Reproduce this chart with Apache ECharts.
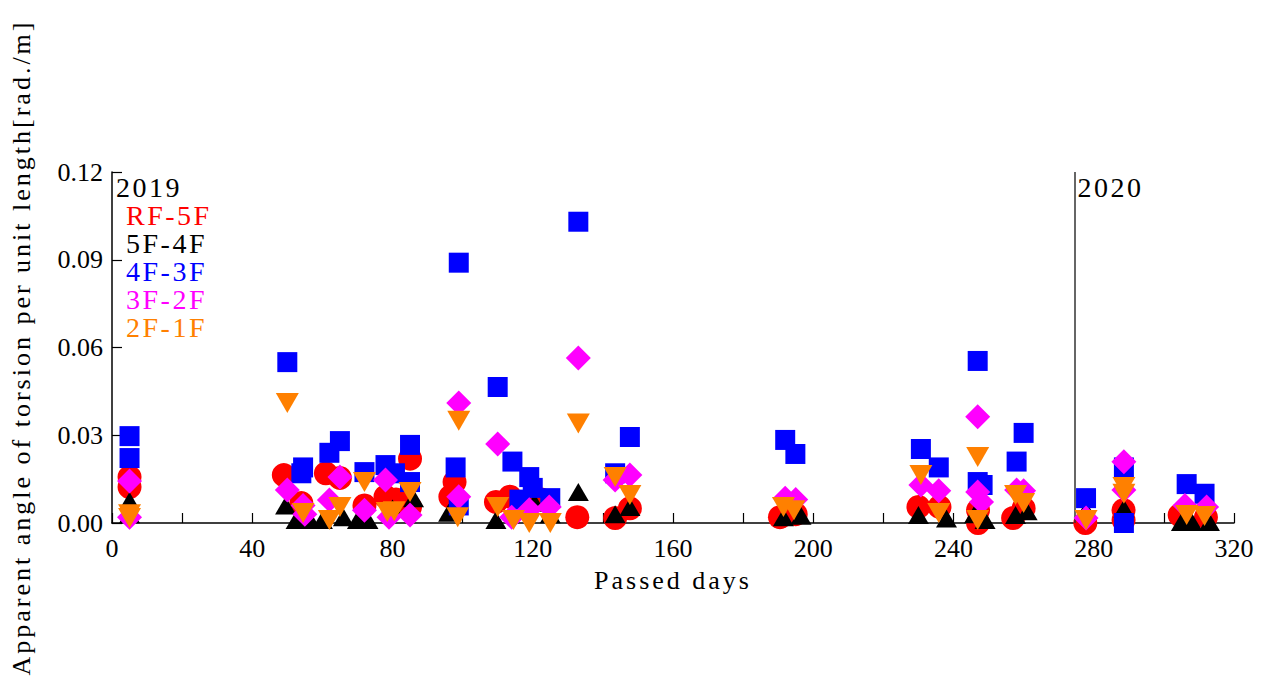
<!DOCTYPE html>
<html>
<head>
<meta charset="utf-8">
<script src="https://cdn.jsdelivr.net/npm/echarts@6/dist/echarts.min.js"></script>
<style>
  html, body { margin: 0; padding: 0; background: #fff; }
  #chart { width: 1264px; height: 683px; }
  /* wide letter spacing, like the original figure */
  #chart text[style*="Times"] { letter-spacing: 3px; }
  #chart text[style*="Georgia"] { letter-spacing: 2.5px; }
</style>
</head>
<body>
<div id="chart"></div>
<script>
// [passed day, angle]
const rf5f = [
  [5, 0.0157], [5, 0.0123], [49, 0.0164], [54, 0.0068], [61, 0.017], [65, 0.0154],
  [72, 0.006], [78, 0.009], [81, 0.008], [85, 0.022], [85, 0.0055], [97.7, 0.014],
  [96.5, 0.009], [109.5, 0.0072], [113.5, 0.009], [122.5, 0.008], [132.7, 0.002],
  [143.5, 0.0017], [147.7, 0.005], [190.5, 0.002], [195, 0.003], [230, 0.0055],
  [236, 0.0055], [247, 0.0044], [247, 0.0], [257, 0.0017], [260, 0.005], [277.6, 0.0],
  [288.5, 0.0044], [288.5, 0.001], [304.5, 0.0027], [312, 0.002]
];
const f5f4 = [
  [5, 0.0075], [5, 0.003], [49.5, 0.006], [52.5, 0.001], [56.5, 0.001], [60, 0.001],
  [66, 0.002], [70, 0.001], [73, 0.001], [80, 0.005], [86, 0.0085], [96, 0.0035],
  [109.5, 0.001], [120.5, 0.007], [125, 0.003], [133, 0.0106], [143.5, 0.003],
  [147.7, 0.0055], [191.5, 0.002], [196.5, 0.0025], [230, 0.0027], [238, 0.0015],
  [246, 0.003], [249, 0.001], [257.7, 0.0027], [261, 0.004], [277.8, 0.0044],
  [288.6, 0.005], [305, 0.0003], [308, 0.0003], [313, 0.0003]
];
const f4f3 = [
  [5, 0.0297], [5, 0.0222], [50, 0.055], [54.5, 0.019], [54, 0.017], [62, 0.024],
  [65, 0.028], [72, 0.0174], [78, 0.0198], [80.7, 0.017], [85, 0.0267], [85, 0.014],
  [98.9, 0.089], [98, 0.019], [98.9, 0.006], [110, 0.0465], [114.2, 0.021], [119, 0.0157],
  [120, 0.012], [125, 0.0085], [116.2, 0.008], [133, 0.103], [147.7, 0.0294], [143.5, 0.017],
  [192, 0.0284], [194.9, 0.0236], [230.7, 0.0253], [235.8, 0.019], [246.9, 0.0554],
  [246.9, 0.014], [248.3, 0.013], [260, 0.0308], [258, 0.021], [277.8, 0.0085],
  [288.6, 0.019], [288.6, 0.0], [306.5, 0.0133], [311.6, 0.010]
];
const f3f2 = [
  [5, 0.0144], [5, 0.002], [50, 0.0113], [54.5, 0.006], [55, 0.003], [62, 0.0079],
  [65, 0.0157], [72, 0.0044], [78, 0.0147], [79, 0.002], [85, 0.0027], [98.9, 0.041],
  [98.9, 0.009], [110, 0.027], [114, 0.002], [119, 0.0045], [124.7, 0.0055], [133, 0.0564],
  [143.5, 0.0147], [147.7, 0.0164], [192, 0.0085], [195, 0.008], [230.7, 0.013],
  [235.8, 0.011], [246.9, 0.0363], [246.9, 0.0106], [248, 0.0072], [258, 0.0113],
  [260, 0.011], [277.8, 0.0017], [288.6, 0.0209], [288.6, 0.0113], [306, 0.006], [312.2, 0.0055]
];
const f2f1 = [
  [5, 0.0017], [5, 0.003], [50, 0.041], [54.5, 0.0034], [62, 0.001], [65, 0.0055],
  [72, 0.014], [78.5, 0.0038], [80.5, 0.004], [85, 0.0106], [98.9, 0.035], [98.6, 0.002],
  [110, 0.0055], [114.5, 0.001], [119, 0.0], [125, 0.0], [133, 0.034], [143.5, 0.0157],
  [147.7, 0.0096], [191.5, 0.0055], [194.5, 0.0044], [230.7, 0.0164], [235.8, 0.0034],
  [246.9, 0.0226], [246.9, 0.001], [257.7, 0.0096], [260, 0.0068], [277.8, 0.001],
  [288.6, 0.0123], [288.6, 0.010], [306.5, 0.0027], [311.6, 0.0024]
];

const seriesNames = ['RF-5F', '5F-4F', '4F-3F', '3F-2F', '2F-1F'];
const seriesData = [rf5f, f5f4, f4f3, f3f2, f2f1];
const yearStart2020 = 274.5;   // passed day where 2020 begins

const colors = ['#ff0000', '#000000', '#0000ff', '#ff00ff', '#ff8000'];
const symbols = ['circle', 'triangle', 'rect', 'diamond', 'triangle'];
const symbolSizes = [24, [21, 18], 20, 25, [23, 20]];
const symbolRotates = [0, 0, 0, 0, 180];

const NAMES = "'Liberation Serif', Times";     // axis names, widest spacing
const NOTES = "'Liberation Serif', Georgia";   // legend / year marks
const TICKS = "'Liberation Serif'";

const chart = echarts.init(document.getElementById('chart'), null, { renderer: 'svg' });

const option = {
  animation: false,
  backgroundColor: '#fff',
  grid: { left: 108, right: 30, top: 172, bottom: 160 },
  legend: {
    orient: 'vertical',
    left: 116,
    top: 196,
    icon: 'none',
    itemWidth: 0,
    itemHeight: 24,
    itemGap: 0,
    selectedMode: false,
    textStyle: { fontFamily: NOTES, fontSize: 28, lineHeight: 28 },
    data: seriesNames.map((n, i) => ({ name: n, textStyle: { color: colors[i] } }))
  },
  xAxis: {
    type: 'value',
    min: 0,
    max: 320,
    interval: 40,
    name: 'Passed days',
    nameLocation: 'middle',
    nameGap: 44,
    nameTextStyle: { fontFamily: NAMES, fontSize: 26, color: '#000' },
    axisLine: { lineStyle: { color: '#000', width: 1.5 } },
    axisTick: { inside: true, length: 10, lineStyle: { color: '#000', width: 1.2 } },
    minorTick: { show: true, splitNumber: 2, length: 10, lineStyle: { color: '#000', width: 1.2 } },
    axisLabel: { margin: 12, fontFamily: TICKS, fontSize: 26, color: '#000' },
    splitLine: { show: false }
  },
  yAxis: {
    type: 'value',
    min: 0,
    max: 0.12,
    interval: 0.03,
    name: 'Apparent angle of torsion per unit length[rad./m]',
    nameLocation: 'middle',
    nameGap: 78,
    nameTextStyle: { fontFamily: NAMES, fontSize: 26, color: '#000' },
    axisLine: { show: true, lineStyle: { color: '#000', width: 1.5 } },
    axisTick: { show: true, inside: true, length: 10, lineStyle: { color: '#000', width: 1.2 } },
    axisLabel: {
      margin: 9, fontFamily: TICKS, fontSize: 26, color: '#000',
      formatter: v => v.toFixed(2)
    },
    splitLine: { show: false }
  },
  series: seriesNames.map((n, i) => ({
    name: n,
    type: 'scatter',
    data: seriesData[i],
    symbol: symbols[i],
    symbolSize: symbolSizes[i],
    symbolRotate: symbolRotates[i],
    itemStyle: { color: colors[i], opacity: 1 },
    z: 2 + i
  }))
};

// vertical divider at start of 2020
option.series[0].markLine = {
  silent: true,
  symbol: 'none',
  label: { show: false },
  lineStyle: { color: '#333', width: 1.5, type: 'solid' },
  data: [{ xAxis: yearStart2020 }]
};

chart.setOption(option);

const topLeft = chart.convertToPixel({ gridIndex: 0 }, [0, 0.12]);
const top2020 = chart.convertToPixel({ gridIndex: 0 }, [yearStart2020, 0.12]);
chart.setOption({
  graphic: [
    { type: 'text', left: topLeft[0] + 4, top: topLeft[1] + 1,
      style: { text: '2019', fontFamily: NOTES, fontSize: 28, fill: '#000' } },
    { type: 'text', left: top2020[0] + 3, top: top2020[1] + 1,
      style: { text: '2020', fontFamily: NOTES, fontSize: 28, fill: '#000' } }
  ]
});
</script>
</body>
</html>
